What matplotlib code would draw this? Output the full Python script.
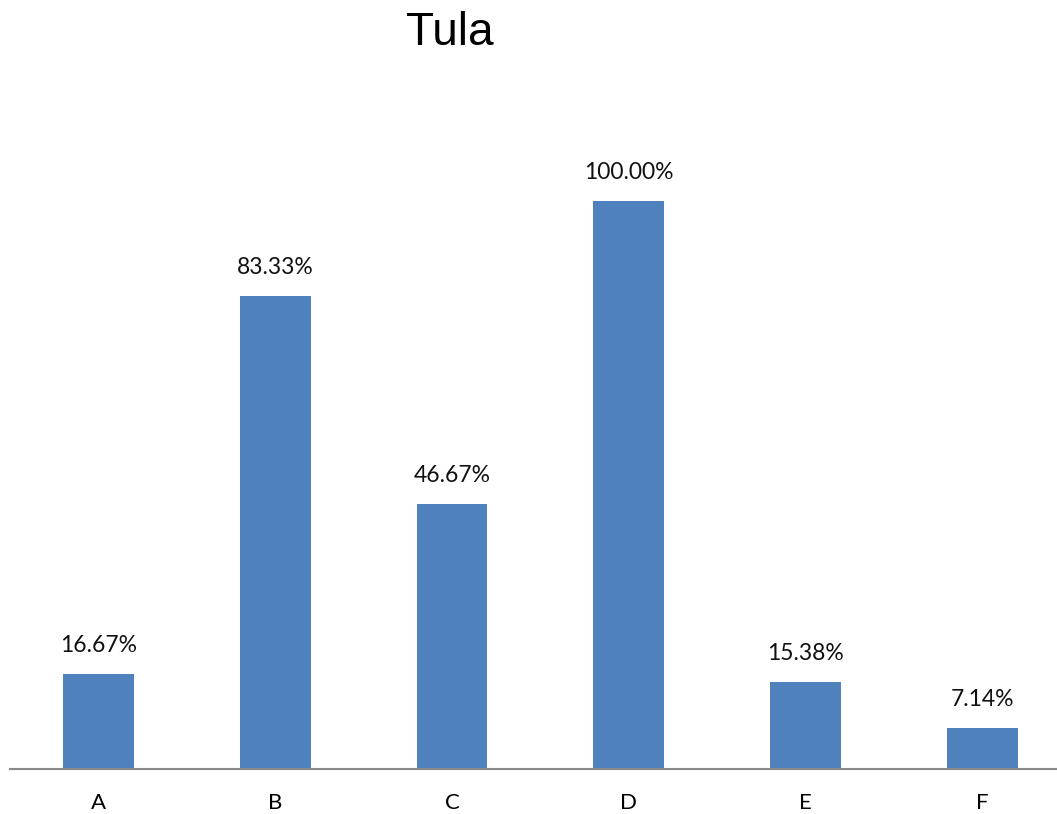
import matplotlib.pyplot as plt

categories = ['A', 'B', 'C', 'D', 'E', 'F']
values = [16.67, 83.33, 46.67, 100.00, 15.38, 7.14]
labels = ['16.67%', '83.33%', '46.67%', '100.00%', '15.38%', '7.14%']

W, H = 1057, 814
fig = plt.figure(figsize=(W / 100, H / 100), dpi=100)

# plot area: axis line at y=769, left edge x=10, categories 176.8 px apart
x0, base, top = 10, 769, 145
ax = fig.add_axes([x0 / W, (H - base) / H, (W - x0) / W, (base - top) / H])

pos = list(range(len(categories)))
ax.bar(pos, values, width=0.4, color='#4f81bd')
for p, v, lab in zip(pos, values, labels):
    ax.annotate(lab, (p, v), xytext=(0, 13), textcoords='offset points',
                ha='center', va='bottom', fontsize=16.5, family='Lato', color='#111111')

step = 176.8
ax.set_xlim(-0.5, -0.5 + (W - x0) / step)
ax.set_ylim(0, (base - top) / 568 * 100)

ax.set_xticks(pos)
ax.set_xticklabels(categories, fontsize=16, family='Lato')
ax.tick_params(axis='x', length=0, pad=17)
ax.set_yticks([])
for s in ['top', 'right', 'left']:
    ax.spines[s].set_visible(False)
ax.spines['bottom'].set_color('#888888')
ax.spines['bottom'].set_linewidth(1.5)

fig.text(450 / W, 1 - 33 / H, 'Tula', ha='center', va='center',
         fontsize=33, family='Liberation Sans')

fig.savefig('out.png', dpi=100)
